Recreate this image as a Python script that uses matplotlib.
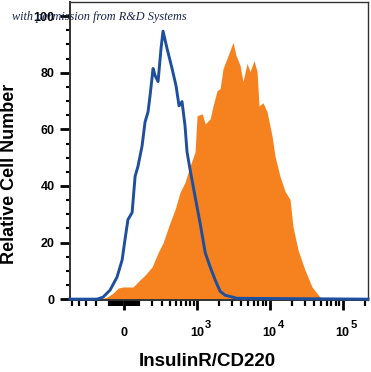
import numpy as np
import matplotlib
matplotlib.use("Agg")
import matplotlib.pyplot as plt

# isotype control (blue outline): fluorescence intensity vs. relative count
iso_x = [-537, -194, -144, -92, -45, -12, 6, 25, 52, 72, 92, 121, 144, 168, 185,
         212, 231, 261, 293, 316, 366, 437, 501, 555, 613, 677, 723, 797, 938,
         1101, 1300, 1521, 1782, 2085, 2443, 3567, 222000]
iso_y = [0, 0, 0.7, 3.2, 7.8, 13.9, 21.0, 28.1, 30.6, 43.4, 47.0, 54.1, 62.6, 66.2,
         71.9, 81.5, 79.0, 76.9, 88.6, 94.7, 88.6, 81.5, 75.4, 68.3, 69.8, 61.2,
         52.0, 45.9, 36.3, 27.0, 16.4, 11.4, 6.8, 2.8, 1.4, 0.3, 0]

# InsulinR stained cells (orange filled)
ins_x = [-168, -114, -72, -38, -7, 58, 106, 144, 203, 261, 316, 407, 485, 573,
         677, 797, 938, 1000, 1181, 1300, 1521, 1667, 1897, 2085, 2292, 2686,
         3143, 3455, 3921, 4309, 4889, 5373, 6100, 6706, 7131, 8100, 9191,
         10750, 11827, 13847, 16220, 18980, 20860, 24430, 30430, 37960, 48900,
         57200]
ins_y = [0, 0.7, 2.1, 3.9, 4.3, 4.3, 6.8, 8.5, 11.4, 16.4, 19.9, 27.0, 31.7, 37.7,
         41.3, 47.0, 52.0, 64.8, 65.5, 61.9, 63.7, 68.3, 73.7, 74.4, 81.5, 86.1,
         90.7, 86.1, 82.6, 76.9, 83.3, 80.4, 84.3, 80.4, 68.3, 69.4, 66.2,
         57.7, 50.5, 43.4, 38.1, 35.2, 25.6, 17.4, 10.3, 4.3, 0.7, 0]

major_ticks = [0, 1e3, 1e4, 1e5]
major_labels = ["0", "10", "10", "10"]
exponents = ["", "3", "4", "5"]
yticks = [0, 20, 40, 60, 80, 100]

W = 202.0  # width of the linear region for the biexponential axis


def fwd(x):
    return np.arcsinh(np.asarray(x, dtype=float) / W) / np.log(10)


def inv(x):
    return W * np.sinh(np.asarray(x, dtype=float) * np.log(10))


plt.rcParams["font.family"] = ["Liberation Sans", "DejaVu Sans"]

fig = plt.figure(figsize=(3.71, 3.72), dpi=100)
ax = fig.add_axes([70 / 371, 1 - 300 / 372, 298 / 371, 298 / 372])
ax.set_xscale("function", functions=(fwd, inv))
ax.set_xlim(-537, 222000)
ax.set_ylim(-0.3, 105)

ax.fill_between(ins_x, ins_y, 0, color="#f5821f", linewidth=0, zorder=2)
ax.plot(iso_x, iso_y, color="#1d4f9e", linewidth=2.1, zorder=3, clip_on=False)

# minor ticks, FlowJo style
minors = []
for dec in [10, 100, 1000, 10000, 100000]:
    for k in range(1, 10):
        minors.append(k * dec)
minors = [m for m in minors if m not in major_ticks]
minors = [-m for m in minors if m <= 500] + minors
ax.set_xticks(major_ticks, labels=major_labels)
ax.set_xticks([m for m in minors if -537 < m < 222000], minor=True)
for lab in ax.get_xticklabels():
    lab.set_va("baseline")
    lab.set_fontweight("bold")

# exponents drawn nearly full size, like the FlowJo export
for t, e in zip(major_ticks, exponents):
    if e:
        ax.annotate(e, xy=(t, 0), xycoords=("data", "axes fraction"),
                    xytext=(5.6, -19.8), textcoords="offset points",
                    ha="left", va="baseline", fontsize=8, fontweight="bold")

ax.set_yticks(yticks)
ax.set_yticks(np.arange(0, 105, 5), minor=True)
for lab in ax.get_yticklabels():
    lab.set_fontweight("bold")

ax.tick_params(axis="x", which="major", length=7, width=2, pad=19, labelsize=9)
ax.tick_params(axis="x", which="minor", length=4, width=1.6)
ax.tick_params(axis="y", which="major", length=7, width=2, pad=4, labelsize=9)
ax.tick_params(axis="y", which="minor", length=3, width=1.5)

for s in ax.spines.values():
    s.set_linewidth(1.0)
    s.set_color("#333333")
ax.spines["left"].set_linewidth(1.4)
ax.spines["bottom"].set_linewidth(1.4)

fig.text(10 / 371, 1 - 174 / 372, "Relative Cell Number", rotation=90,
         ha="center", va="center", fontsize=13, fontweight="bold")
fig.text(207 / 371, 1 - 362 / 372, "InsulinR/CD220", ha="center", va="center",
         fontsize=13.5, fontweight="bold")
fig.text(12 / 371, 1 - 20 / 372, "with permission from R&D Systems",
         family=["Liberation Serif", "DejaVu Serif"], style="italic",
         fontsize=8.8, color="#1a2550", ha="left", va="baseline")

fig.savefig("out.png", dpi=100)
